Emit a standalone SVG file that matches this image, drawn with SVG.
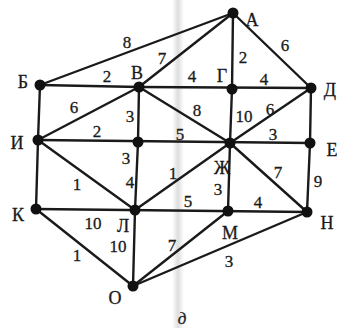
<svg xmlns="http://www.w3.org/2000/svg" width="337" height="328" viewBox="0 0 337 328">
<defs>
<linearGradient id="fold" x1="0" x2="1" y1="0" y2="0">
<stop offset="0" stop-color="#c8c8c8" stop-opacity="0"/>
<stop offset="0.5" stop-color="#c0c0c0" stop-opacity="0.55"/>
<stop offset="1" stop-color="#c8c8c8" stop-opacity="0"/>
</linearGradient>
</defs>
<style>
.e{stroke:#1a1a1a;stroke-width:2.4;fill:none;stroke-linecap:round}
.n{fill:#111}
.t{font-family:"Liberation Serif","DejaVu Serif",serif;font-size:17px;fill:#1a1a1a;stroke:#1a1a1a;stroke-width:0.3;text-anchor:middle;dominant-baseline:central}
.l{font-family:"Liberation Serif","DejaVu Serif",serif;font-size:18px;fill:#1a1a1a;stroke:#1a1a1a;stroke-width:0.3;text-anchor:middle;dominant-baseline:central}
</style>
<rect width="337" height="328" fill="#ffffff"/>
<rect x="172" y="0" width="12" height="328" fill="url(#fold)"/>
<g id="connectors">
<line class="e" x1="40" y1="85" x2="233" y2="13"/>
<line class="e" x1="139" y1="87" x2="233" y2="13"/>
<line class="e" x1="40" y1="85" x2="139" y2="87"/>
<line class="e" x1="233" y1="13" x2="232" y2="89"/>
<line class="e" x1="233" y1="13" x2="311" y2="88"/>
<line class="e" x1="139" y1="87" x2="311" y2="88"/>
<line class="e" x1="40" y1="85" x2="38" y2="140"/>
<line class="e" x1="38" y1="140" x2="139" y2="87"/>
<line class="e" x1="139" y1="87" x2="138" y2="142"/>
<line class="e" x1="139" y1="87" x2="230" y2="143"/>
<line class="e" x1="232" y1="89" x2="230" y2="143"/>
<line class="e" x1="311" y1="88" x2="230" y2="143"/>
<line class="e" x1="311" y1="88" x2="310" y2="143"/>
<line class="e" x1="38" y1="140" x2="310" y2="143"/>
<line class="e" x1="138" y1="142" x2="135" y2="210"/>
<line class="e" x1="38" y1="140" x2="135" y2="210"/>
<line class="e" x1="230" y1="143" x2="135" y2="210"/>
<line class="e" x1="230" y1="143" x2="228" y2="211"/>
<line class="e" x1="230" y1="143" x2="307" y2="212"/>
<line class="e" x1="310" y1="143" x2="307" y2="212"/>
<line class="e" x1="38" y1="140" x2="36" y2="209"/>
<line class="e" x1="36" y1="209" x2="307" y2="212"/>
<line class="e" x1="36" y1="209" x2="133" y2="286"/>
<line class="e" x1="135" y1="210" x2="133" y2="286"/>
<line class="e" x1="133" y1="286" x2="228" y2="211"/>
<line class="e" x1="133" y1="286" x2="307" y2="212"/>
</g>
<g id="edge-labels">
<text class="t" x="127" y="42">8</text>
<text class="t" x="162" y="58">7</text>
<text class="t" x="107" y="76">2</text>
<text class="t" x="243" y="57">2</text>
<text class="t" x="285" y="45">6</text>
<text class="t" x="192" y="76">4</text>
<text class="t" x="264" y="79">4</text>
<text class="t" x="74" y="107">6</text>
<text class="t" x="130" y="116">3</text>
<text class="t" x="97" y="131">2</text>
<text class="t" x="197" y="110">8</text>
<text class="t" x="244" y="116">10</text>
<text class="t" x="270" y="109">6</text>
<text class="t" x="180" y="134">5</text>
<text class="t" x="273" y="134">3</text>
<text class="t" x="126" y="158">3</text>
<text class="t" x="130" y="182">4</text>
<text class="t" x="77" y="184">1</text>
<text class="t" x="173" y="173">1</text>
<text class="t" x="218" y="189">3</text>
<text class="t" x="278" y="172">7</text>
<text class="t" x="318" y="181">9</text>
<text class="t" x="93" y="223">10</text>
<text class="t" x="188" y="201">5</text>
<text class="t" x="258" y="202">4</text>
<text class="t" x="118" y="246">10</text>
<text class="t" x="77" y="255">1</text>
<text class="t" x="172" y="245">7</text>
<text class="t" x="229" y="261">3</text>
</g>
<g id="node-A"><circle class="n" cx="233" cy="13" r="5.5"/><text class="l" x="252" y="20">А</text></g>
<g id="node-B"><circle class="n" cx="40" cy="85" r="5.5"/><text class="l" x="23" y="82">Б</text></g>
<g id="node-V"><circle class="n" cx="139" cy="87" r="5.5"/><text class="l" x="137" y="73">В</text></g>
<g id="node-G"><circle class="n" cx="232" cy="89" r="5.5"/><text class="l" x="222" y="76">Г</text></g>
<g id="node-D"><circle class="n" cx="311" cy="88" r="5.5"/><text class="l" x="330" y="90">Д</text></g>
<g id="node-I"><circle class="n" cx="38" cy="140" r="5.5"/><text class="l" x="17" y="143">И</text></g>
<g id="node-X"><circle class="n" cx="138" cy="142" r="5.5"/></g>
<g id="node-Zh"><circle class="n" cx="230" cy="143" r="5.5"/><text class="l" x="222" y="168">Ж</text></g>
<g id="node-E"><circle class="n" cx="310" cy="143" r="5.5"/><text class="l" x="332" y="150">Е</text></g>
<g id="node-K"><circle class="n" cx="36" cy="209" r="5.5"/><text class="l" x="18" y="215">К</text></g>
<g id="node-L"><circle class="n" cx="135" cy="210" r="5.5"/><text class="l" x="123" y="226">Л</text></g>
<g id="node-M"><circle class="n" cx="228" cy="211" r="5.5"/><text class="l" x="230" y="233">М</text></g>
<g id="node-N"><circle class="n" cx="307" cy="212" r="5.5"/><text class="l" x="327" y="223">Н</text></g>
<g id="node-O"><circle class="n" cx="133" cy="286" r="5.5"/><text class="l" x="115" y="298">О</text></g>
<text class="t" x="182" y="318" font-style="italic">д</text>
</svg>
